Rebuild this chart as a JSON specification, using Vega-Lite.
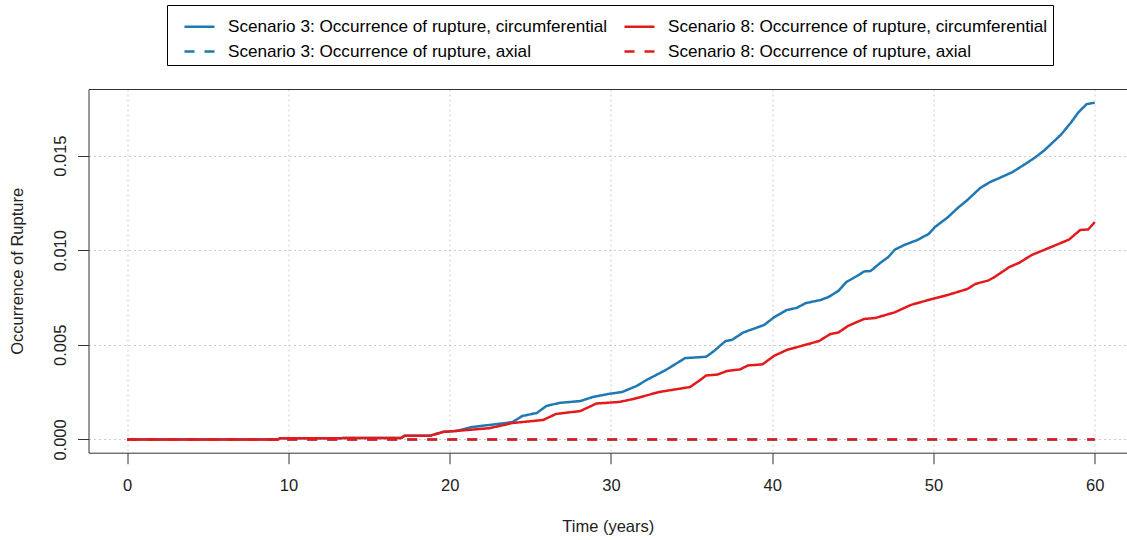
{
  "$schema": "https://vega.github.io/schema/vega-lite/v6.json",
  "width": 1038.5,
  "height": 363.7,
  "autosize": {"type": "none"},
  "padding": {"left": 88.5, "top": 89, "right": 0, "bottom": 87.3},
  "background": "white",
  "config": {
    "font": "Liberation Sans",
    "view": {"stroke": null},
    "axis": {
      "domainColor": "#333333",
      "tickColor": "#333333",
      "labelColor": "#222222",
      "titleColor": "#222222",
      "labelFont": "Liberation Sans",
      "titleFont": "Liberation Sans",
      "labelFontSize": 16.5,
      "titleFontSize": 16.5,
      "titleFontWeight": "normal",
      "tickSize": 11,
      "gridColor": "#cccccc",
      "gridDash": [2, 3],
      "gridWidth": 1
    }
  },
  "data": {
    "values": [
      {"s": "Scenario 3: Occurrence of rupture, circumferential", "t": 0, "v": 0},
      {"s": "Scenario 3: Occurrence of rupture, circumferential", "t": 9.35, "v": 0},
      {"s": "Scenario 3: Occurrence of rupture, circumferential", "t": 9.47, "v": 0.00006},
      {"s": "Scenario 3: Occurrence of rupture, circumferential", "t": 17.0, "v": 0.00008},
      {"s": "Scenario 3: Occurrence of rupture, circumferential", "t": 17.2, "v": 0.0002},
      {"s": "Scenario 3: Occurrence of rupture, circumferential", "t": 18.8, "v": 0.0002},
      {"s": "Scenario 3: Occurrence of rupture, circumferential", "t": 19.6, "v": 0.0004},
      {"s": "Scenario 3: Occurrence of rupture, circumferential", "t": 20.4, "v": 0.00045},
      {"s": "Scenario 3: Occurrence of rupture, circumferential", "t": 21.4, "v": 0.00066},
      {"s": "Scenario 3: Occurrence of rupture, circumferential", "t": 23.5, "v": 0.00087},
      {"s": "Scenario 3: Occurrence of rupture, circumferential", "t": 23.9, "v": 0.00092},
      {"s": "Scenario 3: Occurrence of rupture, circumferential", "t": 24.5, "v": 0.00124},
      {"s": "Scenario 3: Occurrence of rupture, circumferential", "t": 25.4, "v": 0.0014},
      {"s": "Scenario 3: Occurrence of rupture, circumferential", "t": 26.0, "v": 0.00177},
      {"s": "Scenario 3: Occurrence of rupture, circumferential", "t": 26.8, "v": 0.00193},
      {"s": "Scenario 3: Occurrence of rupture, circumferential", "t": 28.1, "v": 0.00203},
      {"s": "Scenario 3: Occurrence of rupture, circumferential", "t": 28.9, "v": 0.00225},
      {"s": "Scenario 3: Occurrence of rupture, circumferential", "t": 29.9, "v": 0.00241},
      {"s": "Scenario 3: Occurrence of rupture, circumferential", "t": 30.7, "v": 0.00251},
      {"s": "Scenario 3: Occurrence of rupture, circumferential", "t": 31.6, "v": 0.00283},
      {"s": "Scenario 3: Occurrence of rupture, circumferential", "t": 32.2, "v": 0.00314},
      {"s": "Scenario 3: Occurrence of rupture, circumferential", "t": 33.4, "v": 0.00367},
      {"s": "Scenario 3: Occurrence of rupture, circumferential", "t": 34.6, "v": 0.0043},
      {"s": "Scenario 3: Occurrence of rupture, circumferential", "t": 35.9, "v": 0.00437},
      {"s": "Scenario 3: Occurrence of rupture, circumferential", "t": 36.4, "v": 0.00468},
      {"s": "Scenario 3: Occurrence of rupture, circumferential", "t": 37.1, "v": 0.0052},
      {"s": "Scenario 3: Occurrence of rupture, circumferential", "t": 37.5, "v": 0.00526},
      {"s": "Scenario 3: Occurrence of rupture, circumferential", "t": 38.2, "v": 0.00565},
      {"s": "Scenario 3: Occurrence of rupture, circumferential", "t": 39.5, "v": 0.00605},
      {"s": "Scenario 3: Occurrence of rupture, circumferential", "t": 40.1, "v": 0.00645},
      {"s": "Scenario 3: Occurrence of rupture, circumferential", "t": 40.9, "v": 0.00684},
      {"s": "Scenario 3: Occurrence of rupture, circumferential", "t": 41.5, "v": 0.00695},
      {"s": "Scenario 3: Occurrence of rupture, circumferential", "t": 42.1, "v": 0.00721},
      {"s": "Scenario 3: Occurrence of rupture, circumferential", "t": 43.0, "v": 0.00737},
      {"s": "Scenario 3: Occurrence of rupture, circumferential", "t": 43.5, "v": 0.00753},
      {"s": "Scenario 3: Occurrence of rupture, circumferential", "t": 44.1, "v": 0.00785},
      {"s": "Scenario 3: Occurrence of rupture, circumferential", "t": 44.6, "v": 0.00832},
      {"s": "Scenario 3: Occurrence of rupture, circumferential", "t": 45.3, "v": 0.00866},
      {"s": "Scenario 3: Occurrence of rupture, circumferential", "t": 45.7, "v": 0.00888},
      {"s": "Scenario 3: Occurrence of rupture, circumferential", "t": 46.1, "v": 0.0089},
      {"s": "Scenario 3: Occurrence of rupture, circumferential", "t": 46.7, "v": 0.00933},
      {"s": "Scenario 3: Occurrence of rupture, circumferential", "t": 47.2, "v": 0.00964},
      {"s": "Scenario 3: Occurrence of rupture, circumferential", "t": 47.6, "v": 0.01003},
      {"s": "Scenario 3: Occurrence of rupture, circumferential", "t": 48.2, "v": 0.01028},
      {"s": "Scenario 3: Occurrence of rupture, circumferential", "t": 49.0, "v": 0.01054},
      {"s": "Scenario 3: Occurrence of rupture, circumferential", "t": 49.7, "v": 0.01086},
      {"s": "Scenario 3: Occurrence of rupture, circumferential", "t": 50.1, "v": 0.01123},
      {"s": "Scenario 3: Occurrence of rupture, circumferential", "t": 50.9, "v": 0.01175},
      {"s": "Scenario 3: Occurrence of rupture, circumferential", "t": 51.5, "v": 0.01223},
      {"s": "Scenario 3: Occurrence of rupture, circumferential", "t": 52.1, "v": 0.01265},
      {"s": "Scenario 3: Occurrence of rupture, circumferential", "t": 52.9, "v": 0.01329},
      {"s": "Scenario 3: Occurrence of rupture, circumferential", "t": 53.5, "v": 0.0136},
      {"s": "Scenario 3: Occurrence of rupture, circumferential", "t": 54.1, "v": 0.01382},
      {"s": "Scenario 3: Occurrence of rupture, circumferential", "t": 54.9, "v": 0.01413},
      {"s": "Scenario 3: Occurrence of rupture, circumferential", "t": 55.7, "v": 0.01456},
      {"s": "Scenario 3: Occurrence of rupture, circumferential", "t": 56.3, "v": 0.0149},
      {"s": "Scenario 3: Occurrence of rupture, circumferential", "t": 56.9, "v": 0.0153},
      {"s": "Scenario 3: Occurrence of rupture, circumferential", "t": 57.4, "v": 0.0157},
      {"s": "Scenario 3: Occurrence of rupture, circumferential", "t": 57.9, "v": 0.0161},
      {"s": "Scenario 3: Occurrence of rupture, circumferential", "t": 58.5, "v": 0.01672},
      {"s": "Scenario 3: Occurrence of rupture, circumferential", "t": 59.0, "v": 0.0173},
      {"s": "Scenario 3: Occurrence of rupture, circumferential", "t": 59.5, "v": 0.01772},
      {"s": "Scenario 3: Occurrence of rupture, circumferential", "t": 60.0, "v": 0.0178},
      {"s": "Scenario 3: Occurrence of rupture, axial", "t": 0, "v": 0},
      {"s": "Scenario 3: Occurrence of rupture, axial", "t": 60, "v": 0},
      {"s": "Scenario 8: Occurrence of rupture, circumferential", "t": 0, "v": 0},
      {"s": "Scenario 8: Occurrence of rupture, circumferential", "t": 9.35, "v": 0},
      {"s": "Scenario 8: Occurrence of rupture, circumferential", "t": 9.47, "v": 0.00006},
      {"s": "Scenario 8: Occurrence of rupture, circumferential", "t": 17.0, "v": 0.00008},
      {"s": "Scenario 8: Occurrence of rupture, circumferential", "t": 17.2, "v": 0.0002},
      {"s": "Scenario 8: Occurrence of rupture, circumferential", "t": 18.8, "v": 0.0002},
      {"s": "Scenario 8: Occurrence of rupture, circumferential", "t": 19.6, "v": 0.0004},
      {"s": "Scenario 8: Occurrence of rupture, circumferential", "t": 20.4, "v": 0.00045},
      {"s": "Scenario 8: Occurrence of rupture, circumferential", "t": 22.5, "v": 0.0006},
      {"s": "Scenario 8: Occurrence of rupture, circumferential", "t": 23.9, "v": 0.00087},
      {"s": "Scenario 8: Occurrence of rupture, circumferential", "t": 25.8, "v": 0.00103},
      {"s": "Scenario 8: Occurrence of rupture, circumferential", "t": 26.6, "v": 0.00135},
      {"s": "Scenario 8: Occurrence of rupture, circumferential", "t": 28.1, "v": 0.0015},
      {"s": "Scenario 8: Occurrence of rupture, circumferential", "t": 29.1, "v": 0.0019},
      {"s": "Scenario 8: Occurrence of rupture, circumferential", "t": 30.5, "v": 0.00198},
      {"s": "Scenario 8: Occurrence of rupture, circumferential", "t": 31.4, "v": 0.00214},
      {"s": "Scenario 8: Occurrence of rupture, circumferential", "t": 33.0, "v": 0.00251},
      {"s": "Scenario 8: Occurrence of rupture, circumferential", "t": 34.9, "v": 0.00277},
      {"s": "Scenario 8: Occurrence of rupture, circumferential", "t": 35.5, "v": 0.00312},
      {"s": "Scenario 8: Occurrence of rupture, circumferential", "t": 35.9, "v": 0.00338},
      {"s": "Scenario 8: Occurrence of rupture, circumferential", "t": 36.6, "v": 0.00343},
      {"s": "Scenario 8: Occurrence of rupture, circumferential", "t": 37.2, "v": 0.00362},
      {"s": "Scenario 8: Occurrence of rupture, circumferential", "t": 38.0, "v": 0.0037},
      {"s": "Scenario 8: Occurrence of rupture, circumferential", "t": 38.5, "v": 0.00391},
      {"s": "Scenario 8: Occurrence of rupture, circumferential", "t": 39.4, "v": 0.00397},
      {"s": "Scenario 8: Occurrence of rupture, circumferential", "t": 40.1, "v": 0.00441},
      {"s": "Scenario 8: Occurrence of rupture, circumferential", "t": 40.9, "v": 0.00473},
      {"s": "Scenario 8: Occurrence of rupture, circumferential", "t": 41.8, "v": 0.00494},
      {"s": "Scenario 8: Occurrence of rupture, circumferential", "t": 42.9, "v": 0.0052},
      {"s": "Scenario 8: Occurrence of rupture, circumferential", "t": 43.6, "v": 0.00557},
      {"s": "Scenario 8: Occurrence of rupture, circumferential", "t": 44.1, "v": 0.00565},
      {"s": "Scenario 8: Occurrence of rupture, circumferential", "t": 44.7, "v": 0.006},
      {"s": "Scenario 8: Occurrence of rupture, circumferential", "t": 45.7, "v": 0.00637},
      {"s": "Scenario 8: Occurrence of rupture, circumferential", "t": 46.4, "v": 0.00642},
      {"s": "Scenario 8: Occurrence of rupture, circumferential", "t": 47.6, "v": 0.00672},
      {"s": "Scenario 8: Occurrence of rupture, circumferential", "t": 48.6, "v": 0.00711},
      {"s": "Scenario 8: Occurrence of rupture, circumferential", "t": 49.9, "v": 0.00742},
      {"s": "Scenario 8: Occurrence of rupture, circumferential", "t": 50.9, "v": 0.00764},
      {"s": "Scenario 8: Occurrence of rupture, circumferential", "t": 52.1, "v": 0.00795},
      {"s": "Scenario 8: Occurrence of rupture, circumferential", "t": 52.6, "v": 0.00822},
      {"s": "Scenario 8: Occurrence of rupture, circumferential", "t": 53.4, "v": 0.0084},
      {"s": "Scenario 8: Occurrence of rupture, circumferential", "t": 53.8, "v": 0.00859},
      {"s": "Scenario 8: Occurrence of rupture, circumferential", "t": 54.7, "v": 0.00911},
      {"s": "Scenario 8: Occurrence of rupture, circumferential", "t": 55.3, "v": 0.00933},
      {"s": "Scenario 8: Occurrence of rupture, circumferential", "t": 56.1, "v": 0.00975},
      {"s": "Scenario 8: Occurrence of rupture, circumferential", "t": 57.3, "v": 0.01017},
      {"s": "Scenario 8: Occurrence of rupture, circumferential", "t": 58.4, "v": 0.01056},
      {"s": "Scenario 8: Occurrence of rupture, circumferential", "t": 59.1, "v": 0.01107},
      {"s": "Scenario 8: Occurrence of rupture, circumferential", "t": 59.6, "v": 0.0111},
      {"s": "Scenario 8: Occurrence of rupture, circumferential", "t": 60.0, "v": 0.01149},
      {"s": "Scenario 8: Occurrence of rupture, axial", "t": 0, "v": 0},
      {"s": "Scenario 8: Occurrence of rupture, axial", "t": 60, "v": 0}
    ]
  },
  "encoding": {
    "y": {
      "field": "v",
      "type": "quantitative",
      "scale": {"domain": [-0.0007, 0.01852], "nice": false, "zero": false},
      "axis": {
        "title": "Occurrence of Rupture",
        "values": [0, 0.005, 0.01, 0.015],
        "format": ".3f",
        "labelAngle": -90,
        "labelAlign": "center",
        "labelBaseline": "alphabetic",
        "labelPadding": 12.5,
        "titleAngle": -90,
        "titleBaseline": "alphabetic",
        "titleX": -66.5,
        "grid": true
      }
    },
    "color": {
      "field": "s",
      "type": "nominal",
      "scale": {
        "domain": [
          "Scenario 3: Occurrence of rupture, circumferential",
          "Scenario 3: Occurrence of rupture, axial",
          "Scenario 8: Occurrence of rupture, circumferential",
          "Scenario 8: Occurrence of rupture, axial"
        ],
        "range": ["#1F78B4", "#1F78B4", "#E31A1C", "#E31A1C"]
      },
      "legend": {
        "title": null,
        "orient": "none",
        "legendX": 78.5,
        "legendY": -84,
        "columns": 2,
        "strokeColor": "#000000",
        "fillColor": "#ffffff",
        "padding": 5,
        "symbolType": "stroke",
        "symbolSize": 900,
        "symbolStrokeWidth": 2.5,
        "symbolOffset": 11,
        "labelOffset": 12,
        "labelFontSize": 17.15,
        "labelFont": "Liberation Sans",
        "labelColor": "#000000",
        "labelLimit": 600,
        "rowPadding": -7,
        "columnPadding": 4
      }
    },
    "strokeDash": {
      "field": "s",
      "type": "nominal",
      "scale": {
        "domain": [
          "Scenario 3: Occurrence of rupture, circumferential",
          "Scenario 3: Occurrence of rupture, axial",
          "Scenario 8: Occurrence of rupture, circumferential",
          "Scenario 8: Occurrence of rupture, axial"
        ],
        "range": [[1, 0], [10, 10], [1, 0], [10, 10]]
      },
      "legend": {
        "title": null,
        "orient": "none",
        "legendX": 78.5,
        "legendY": -84,
        "columns": 2,
        "strokeColor": "#000000",
        "fillColor": "#ffffff",
        "padding": 5,
        "symbolType": "stroke",
        "symbolSize": 900,
        "symbolStrokeWidth": 2.5,
        "symbolOffset": 11,
        "labelOffset": 12,
        "labelFontSize": 17.15,
        "labelFont": "Liberation Sans",
        "labelColor": "#000000",
        "labelLimit": 600,
        "rowPadding": -7,
        "columnPadding": 4
      }
    }
  },
  "layer": [
    {
      "transform": [{"filter": "datum.s === 'Scenario 3: Occurrence of rupture, circumferential'"}],
      "mark": {"type": "line", "strokeWidth": 2.5},
      "encoding": {
        "x": {
          "field": "t",
          "type": "quantitative",
          "scale": {"domain": [-2.4, 62.0], "nice": false, "zero": false},
          "axis": {
            "orient": "bottom",
            "title": "Time (years)",
            "values": [0, 10, 20, 30, 40, 50, 60],
            "labelBaseline": "alphabetic",
            "labelPadding": 27,
            "labelFlush": false,
            "titleBaseline": "alphabetic",
            "titleY": 78.3,
            "grid": true
          }
        }
      }
    },
    {
      "transform": [{"filter": "datum.s === 'Scenario 3: Occurrence of rupture, axial'"}],
      "mark": {"type": "line", "strokeWidth": 2.5},
      "encoding": {
        "x": {
          "field": "t",
          "type": "quantitative",
          "axis": {
            "orient": "top",
            "title": null,
            "labels": false,
            "ticks": false,
            "grid": false,
            "domain": true
          }
        }
      }
    },
    {
      "transform": [{"filter": "datum.s === 'Scenario 8: Occurrence of rupture, circumferential'"}],
      "mark": {"type": "line", "strokeWidth": 2.5},
      "encoding": {
        "x": {"field": "t", "type": "quantitative", "axis": null}
      }
    },
    {
      "transform": [{"filter": "datum.s === 'Scenario 8: Occurrence of rupture, axial'"}],
      "mark": {"type": "line", "strokeWidth": 2.5},
      "encoding": {
        "x": {"field": "t", "type": "quantitative", "axis": null}
      }
    }
  ],
  "resolve": {"axis": {"x": "independent"}}
}
